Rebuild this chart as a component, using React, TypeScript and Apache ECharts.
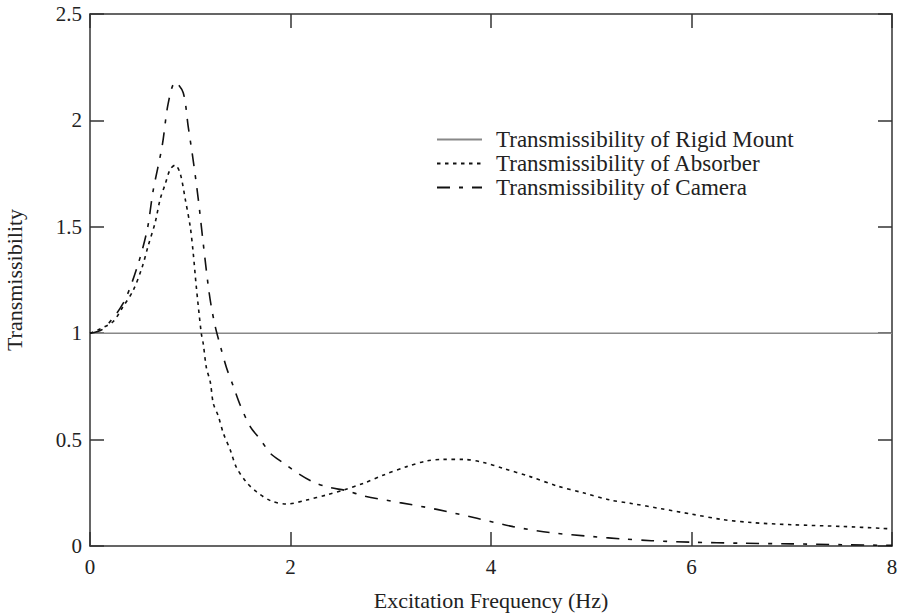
import React, { useEffect, useRef } from "react";
import * as echarts from "echarts";

const xTicks = { min: 0, max: 8, interval: 2 };
const yTicks = { min: 0, max: 2.5, interval: 0.5 };

const seriesNames = [
  "Transmissibility of Rigid Mount",
  "Transmissibility of Absorber",
  "Transmissibility of Camera",
];

const rigidX = [0, 8];
const rigidY = [1, 1];

const absorberX = [0, 0.1, 0.23, 0.33, 0.43, 0.52, 0.58, 0.65, 0.7, 0.75, 0.8, 0.85, 0.9, 0.95, 1.0, 1.03, 1.06, 1.11, 1.13, 1.16, 1.2, 1.23, 1.28, 1.33, 1.4, 1.46, 1.56, 1.66, 1.8, 1.96, 2.16, 2.36, 2.53, 2.73, 2.93, 3.16, 3.36, 3.52, 3.72, 3.92, 4.12, 4.39, 4.66, 4.92, 5.19, 5.4, 5.7, 6.0, 6.3, 6.6, 7.0, 7.5, 7.9, 8.0];
const absorberY = [1.0, 1.02, 1.054, 1.125, 1.2, 1.31, 1.41, 1.52, 1.63, 1.7, 1.77, 1.79, 1.75, 1.63, 1.5, 1.375, 1.22, 1.0, 0.95, 0.84, 0.77, 0.67, 0.61, 0.53, 0.45, 0.37, 0.3, 0.255, 0.213, 0.197, 0.216, 0.24, 0.263, 0.295, 0.334, 0.373, 0.4, 0.407, 0.407, 0.393, 0.365, 0.326, 0.282, 0.25, 0.216, 0.2, 0.175, 0.15, 0.125, 0.11, 0.1, 0.092, 0.083, 0.08];

const cameraX = [0, 0.13, 0.33, 0.47, 0.57, 0.63, 0.72, 0.78, 0.85, 0.93, 0.98, 1.03, 1.08, 1.13, 1.18, 1.21, 1.25, 1.3, 1.36, 1.43, 1.5, 1.6, 1.7, 1.8, 1.93, 2.08, 2.23, 2.39, 2.56, 2.73, 3.09, 3.46, 3.86, 4.22, 4.59, 5.02, 5.32, 5.6, 6.0, 6.5, 7.0, 7.5, 8.0];
const cameraY = [1.0, 1.02, 1.14, 1.31, 1.485, 1.67, 1.88, 2.08, 2.18, 2.13, 1.97, 1.81, 1.63, 1.42, 1.22, 1.125, 1.03, 0.94, 0.84, 0.75, 0.66, 0.56, 0.5, 0.435, 0.39, 0.34, 0.3, 0.275, 0.26, 0.235, 0.204, 0.172, 0.13, 0.091, 0.063, 0.044, 0.033, 0.025, 0.018, 0.013, 0.01, 0.006, 0.003];

const zip = (xs: number[], ys: number[]) => xs.map((x, i) => [x, ys[i]]);

const FONT = "Times New Roman, Tinos, Liberation Serif, DejaVu Serif, serif";
const TEXT = "#222";
const AXIS = "#333";

export default function App() {
  const ref = useRef<HTMLDivElement>(null);
  useEffect(() => {
    if (!ref.current) return;
    const chart = echarts.init(ref.current, undefined, { renderer: "svg" });
    const axisLine = { show: true, onZero: false, lineStyle: { color: AXIS, width: 1.5 } };
    const axisTick = { show: true, inside: true, length: 14, lineStyle: { color: AXIS, width: 1.5 } };
    const labelStyle = { color: TEXT, fontFamily: FONT, fontSize: 21 };
    const nameStyle = { color: TEXT, fontFamily: FONT, fontSize: 22 };
    chart.setOption({
      animation: false,
      backgroundColor: "#fff",
      grid: { left: 90, right: 13, top: 14, bottom: 68, containLabel: false, outerBoundsMode: "none" },
      legend: {
        orient: "vertical",
        left: 431,
        top: 123,
        itemWidth: 45,
        itemHeight: 12,
        itemGap: 1,
        data: seriesNames,
        itemStyle: { opacity: 0 },
        textStyle: { color: TEXT, fontFamily: FONT, fontSize: 23, padding: [0, 0, 0, 9] },
      },
      xAxis: [
        {
          type: "value",
          ...xTicks,
          position: "bottom",
          name: "Excitation Frequency (Hz)",
          nameLocation: "middle",
          nameGap: 43,
          nameTextStyle: nameStyle,
          axisLine,
          axisTick,
          axisLabel: { ...labelStyle, margin: 10 },
          splitLine: { show: false },
        },
        {
          type: "value",
          ...xTicks,
          position: "top",
          axisLine,
          axisTick,
          axisLabel: { show: false },
          splitLine: { show: false },
        },
      ],
      yAxis: [
        {
          type: "value",
          ...yTicks,
          position: "left",
          name: "Transmissibility",
          nameLocation: "middle",
          nameGap: 65,
          nameTextStyle: nameStyle,
          axisLine,
          axisTick,
          axisLabel: { ...labelStyle, margin: 8 },
          splitLine: { show: false },
        },
        {
          type: "value",
          ...yTicks,
          position: "right",
          axisLine,
          axisTick,
          axisLabel: { show: false },
          splitLine: { show: false },
        },
      ],
      series: [
        {
          name: seriesNames[0],
          type: "line",
          data: zip(rigidX, rigidY),
          symbol: "none",
          lineStyle: { color: "#888", width: 1.6, type: "solid" },
          itemStyle: { color: "#888" },
        },
        {
          name: seriesNames[1],
          type: "line",
          data: zip(absorberX, absorberY),
          symbol: "none",
          smooth: 0.3,
          lineStyle: { color: "#111", width: 1.6, type: [3.5, 4.5] },
          itemStyle: { color: "#111" },
        },
        {
          name: seriesNames[2],
          type: "line",
          data: zip(cameraX, cameraY),
          symbol: "none",
          smooth: 0.3,
          lineStyle: { color: "#111", width: 1.6, type: [13, 9, 4, 9] },
          itemStyle: { color: "#111" },
        },
      ],
    });
    return () => chart.dispose();
  }, []);
  return (
    <div
      ref={ref}
      style={{ position: "fixed", left: 0, top: 0, width: 905, height: 614, background: "#fff" }}
    />
  );
}
